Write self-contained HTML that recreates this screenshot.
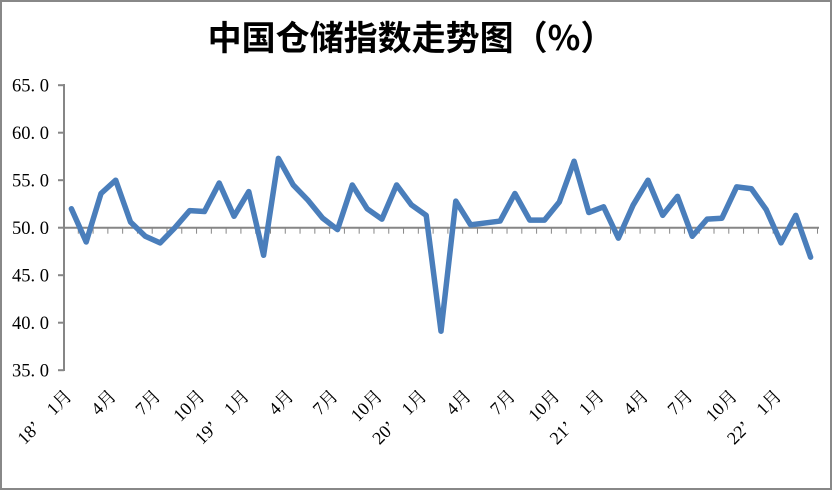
<!DOCTYPE html>
<html><head><meta charset="utf-8"><style>
html,body{margin:0;padding:0;background:#fff;}
</style></head><body>
<svg width="832" height="490" xmlns="http://www.w3.org/2000/svg" font-family="Liberation Serif, 'Noto Serif CJK SC', serif">
<defs>
<pattern id="tk" x="64" y="227.7" width="14.7843" height="8" patternUnits="userSpaceOnUse">
<rect x="13.7843" y="0" width="2" height="8" fill="#868686"/>
</pattern>
</defs>
<rect x="1" y="1" width="830" height="488" fill="#fff" stroke="#888" stroke-width="2"/>
<text x="411" y="50" text-anchor="middle" font-family="'Noto Sans CJK SC', sans-serif" font-size="34" font-weight="bold" fill="#000">中国仓储指数走势图（%）</text>
<g stroke="#868686" stroke-width="2">
<line x1="64" y1="84" x2="64" y2="371"/>
<line x1="58" y1="85.2" x2="64" y2="85.2"/>
<line x1="58" y1="132.7" x2="64" y2="132.7"/>
<line x1="58" y1="180.2" x2="64" y2="180.2"/>
<line x1="58" y1="227.7" x2="64" y2="227.7"/>
<line x1="58" y1="275.2" x2="64" y2="275.2"/>
<line x1="58" y1="322.7" x2="64" y2="322.7"/>
<line x1="58" y1="370.2" x2="64" y2="370.2"/>
<line x1="64" y1="227.7" x2="819" y2="227.7"/>
</g>
<rect x="65" y="227.7" width="755" height="6" fill="url(#tk)"/>
<g font-size="18.5" fill="#000" text-anchor="end">
<text x="49" y="91.7">65. 0</text>
<text x="49" y="139.2">60. 0</text>
<text x="49" y="186.7">55. 0</text>
<text x="49" y="234.2">50. 0</text>
<text x="49" y="281.7">45. 0</text>
<text x="49" y="329.2">40. 0</text>
<text x="49" y="376.7">35. 0</text>
</g>
<g font-size="18" fill="#000" text-anchor="end">
<text x="73" y="397" transform="rotate(-45 73 397)">18’　1月</text>
<text x="117.3" y="397" transform="rotate(-45 117.3 397)">4月</text>
<text x="161.7" y="397" transform="rotate(-45 161.7 397)">7月</text>
<text x="206" y="397" transform="rotate(-45 206 397)">10月</text>
<text x="250.4" y="397" transform="rotate(-45 250.4 397)">19’　1月</text>
<text x="294.8" y="397" transform="rotate(-45 294.8 397)">4月</text>
<text x="339.1" y="397" transform="rotate(-45 339.1 397)">7月</text>
<text x="383.5" y="397" transform="rotate(-45 383.5 397)">10月</text>
<text x="427.8" y="397" transform="rotate(-45 427.8 397)">20’　1月</text>
<text x="472.2" y="397" transform="rotate(-45 472.2 397)">4月</text>
<text x="516.5" y="397" transform="rotate(-45 516.5 397)">7月</text>
<text x="560.9" y="397" transform="rotate(-45 560.9 397)">10月</text>
<text x="605.2" y="397" transform="rotate(-45 605.2 397)">21’　1月</text>
<text x="649.6" y="397" transform="rotate(-45 649.6 397)">4月</text>
<text x="693.9" y="397" transform="rotate(-45 693.9 397)">7月</text>
<text x="738.3" y="397" transform="rotate(-45 738.3 397)">10月</text>
<text x="782.6" y="397" transform="rotate(-45 782.6 397)">22’　1月</text>
</g>
<polyline fill="none" stroke="#4a7ebb" stroke-width="5.5" stroke-linejoin="round" stroke-linecap="round" points="71.4,208.7 86.2,241.95 101.0,193.5 115.7,180.2 130.5,222.0 145.3,236.25 160.1,242.9 174.9,227.7 189.7,210.6 204.4,211.55 219.2,183.05 234.0,216.3 248.8,191.6 263.6,255.25 278.4,158.35 293.2,184.95 307.9,200.15 322.7,218.2 337.5,229.6 352.3,184.95 367.1,208.7 381.9,219.15 396.6,184.95 411.4,204.9 426.2,215.35 441.0,331.25 455.8,201.1 470.6,224.85 485.4,222.95 500.1,221.05 514.9,193.5 529.7,220.1 544.5,220.1 559.3,202.05 574.1,161.2 588.8,212.5 603.6,206.8 618.4,238.15 633.2,204.9 648.0,180.2 662.7,215.35 677.5,196.35 692.3,236.25 707.1,219.15 721.9,218.2 736.7,186.85 751.4,188.75 766.2,209.65 781.0,242.9 795.8,215.35 810.6,257.15"/>
</svg>
</body></html>
